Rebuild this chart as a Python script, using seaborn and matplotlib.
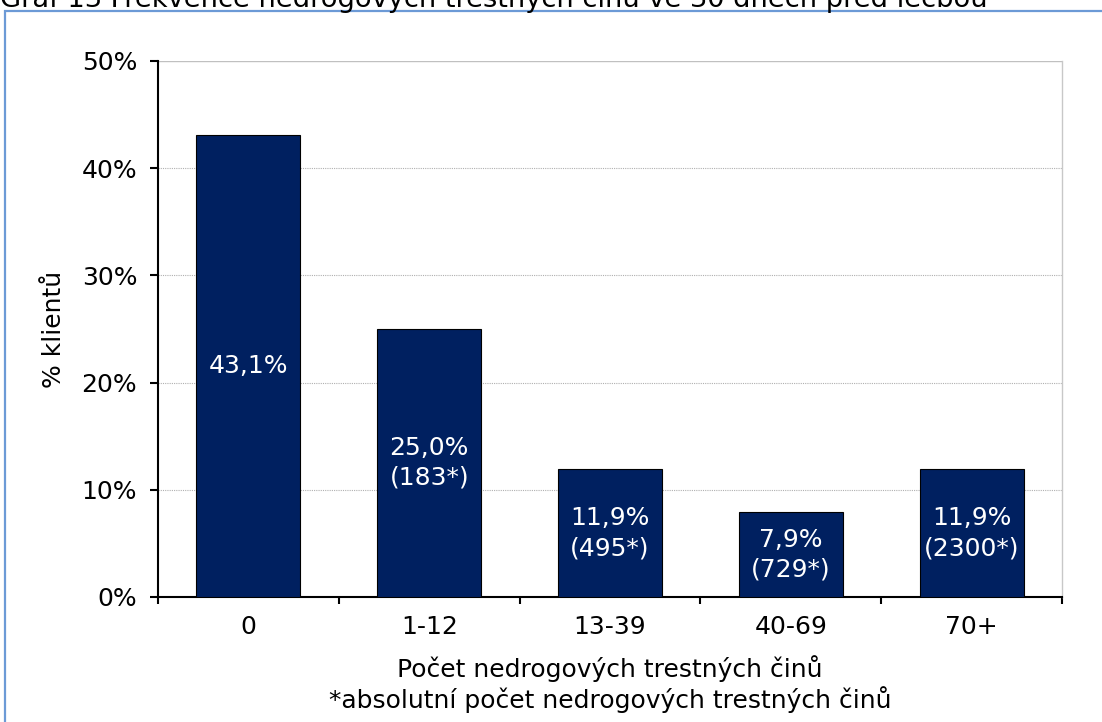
import matplotlib
matplotlib.use("Agg")
import matplotlib.pyplot as plt
import seaborn as sns
import pandas as pd
from matplotlib.patches import Rectangle

categories = ["0", "1-12", "13-39", "40-69", "70+"]
values = [43.1, 25.0, 11.9, 7.9, 11.9]
bar_labels = ["43,1%", "25,0%\n(183*)", "11,9%\n(495*)", "7,9%\n(729*)", "11,9%\n(2300*)"]
yticks = [0, 10, 20, 30, 40, 50]
ytick_labels = ["0%", "10%", "20%", "30%", "40%", "50%"]

title = "Graf 13 Frekvence nedrogových trestných činů ve 30 dnech před léčbou"
xlabel = "Počet nedrogových trestných činů\n*absolutní počet nedrogových trestných činů"
ylabel = "% klientů"

sns.set_theme(style="white")
plt.rcParams['font.family'] = ['DejaVu Sans']

df = pd.DataFrame({"cat": categories, "val": values})

W, H = 1102, 722
fig = plt.figure(figsize=(W / 100, H / 100), dpi=100)
ax = fig.add_axes([158 / W, 1 - 597 / H, (1062 - 158) / W, (597 - 61) / H])

sns.barplot(data=df, x="cat", y="val", ax=ax, color="#002060", saturation=1,
            width=0.575, edgecolor="black", linewidth=0.8, zorder=3)

FS = 18
ax.set_ylim(0, 50)
ax.set_xlim(-0.5, 4.5)
ax.set_yticks(yticks)
ax.set_yticklabels(ytick_labels, fontsize=FS, color="black")
ax.set_xticks(range(len(categories)))
ax.set_xticklabels(categories, fontsize=FS, color="black")
ax.tick_params(axis="x", length=0, pad=13)
ax.tick_params(axis="y", length=6, width=1.5, direction="out", left=True, pad=9, color="black")

# category boundary ticks on x axis
ax.set_xticks([-0.5, 0.5, 1.5, 2.5, 3.5, 4.5], minor=True)
ax.tick_params(axis="x", which="minor", length=5, width=1.5, direction="out", bottom=True, color="black")

for y in yticks[1:-1]:
    ax.axhline(y, color="#b0b0b0", linestyle=(0, (1, 1)), linewidth=0.8, zorder=1)
ax.axhline(50, color="#c0c0c0", linewidth=1.0, zorder=1)

ax.spines["top"].set_visible(False)
ax.spines["right"].set_color("#c8c8c8")
ax.spines["right"].set_linewidth(1.0)
ax.spines["left"].set_color("black")
ax.spines["left"].set_linewidth(1.5)
ax.spines["bottom"].set_color("black")
ax.spines["bottom"].set_linewidth(1.5)

for i, (v, lab) in enumerate(zip(values, bar_labels)):
    ax.text(i, v / 2, lab, ha="center", va="center", color="white", fontsize=FS,
            linespacing=1.3, zorder=4)

ax.set_xlabel(xlabel, fontsize=FS, color="black", linespacing=1.2)
ax.xaxis.set_label_coords(0.5, (597 - 655) / (597 - 61))
ax.set_ylabel(ylabel, fontsize=FS, color="black")
ax.yaxis.set_label_coords((66 - 158) / (1062 - 158), 0.5)

# outer frame
fig.patches.append(Rectangle((5 / W, -0.1), 1.2, 1 - 11 / H + 0.1, transform=fig.transFigure,
                             fill=False, edgecolor="#6c9ad6", linewidth=1.6))

fig.text(0.0, 1 - 7 / H, title, ha="left", va="baseline", fontsize=19.6,
         family=["DejaVu Sans"], color="black")

fig.savefig("out.png", dpi=100)
